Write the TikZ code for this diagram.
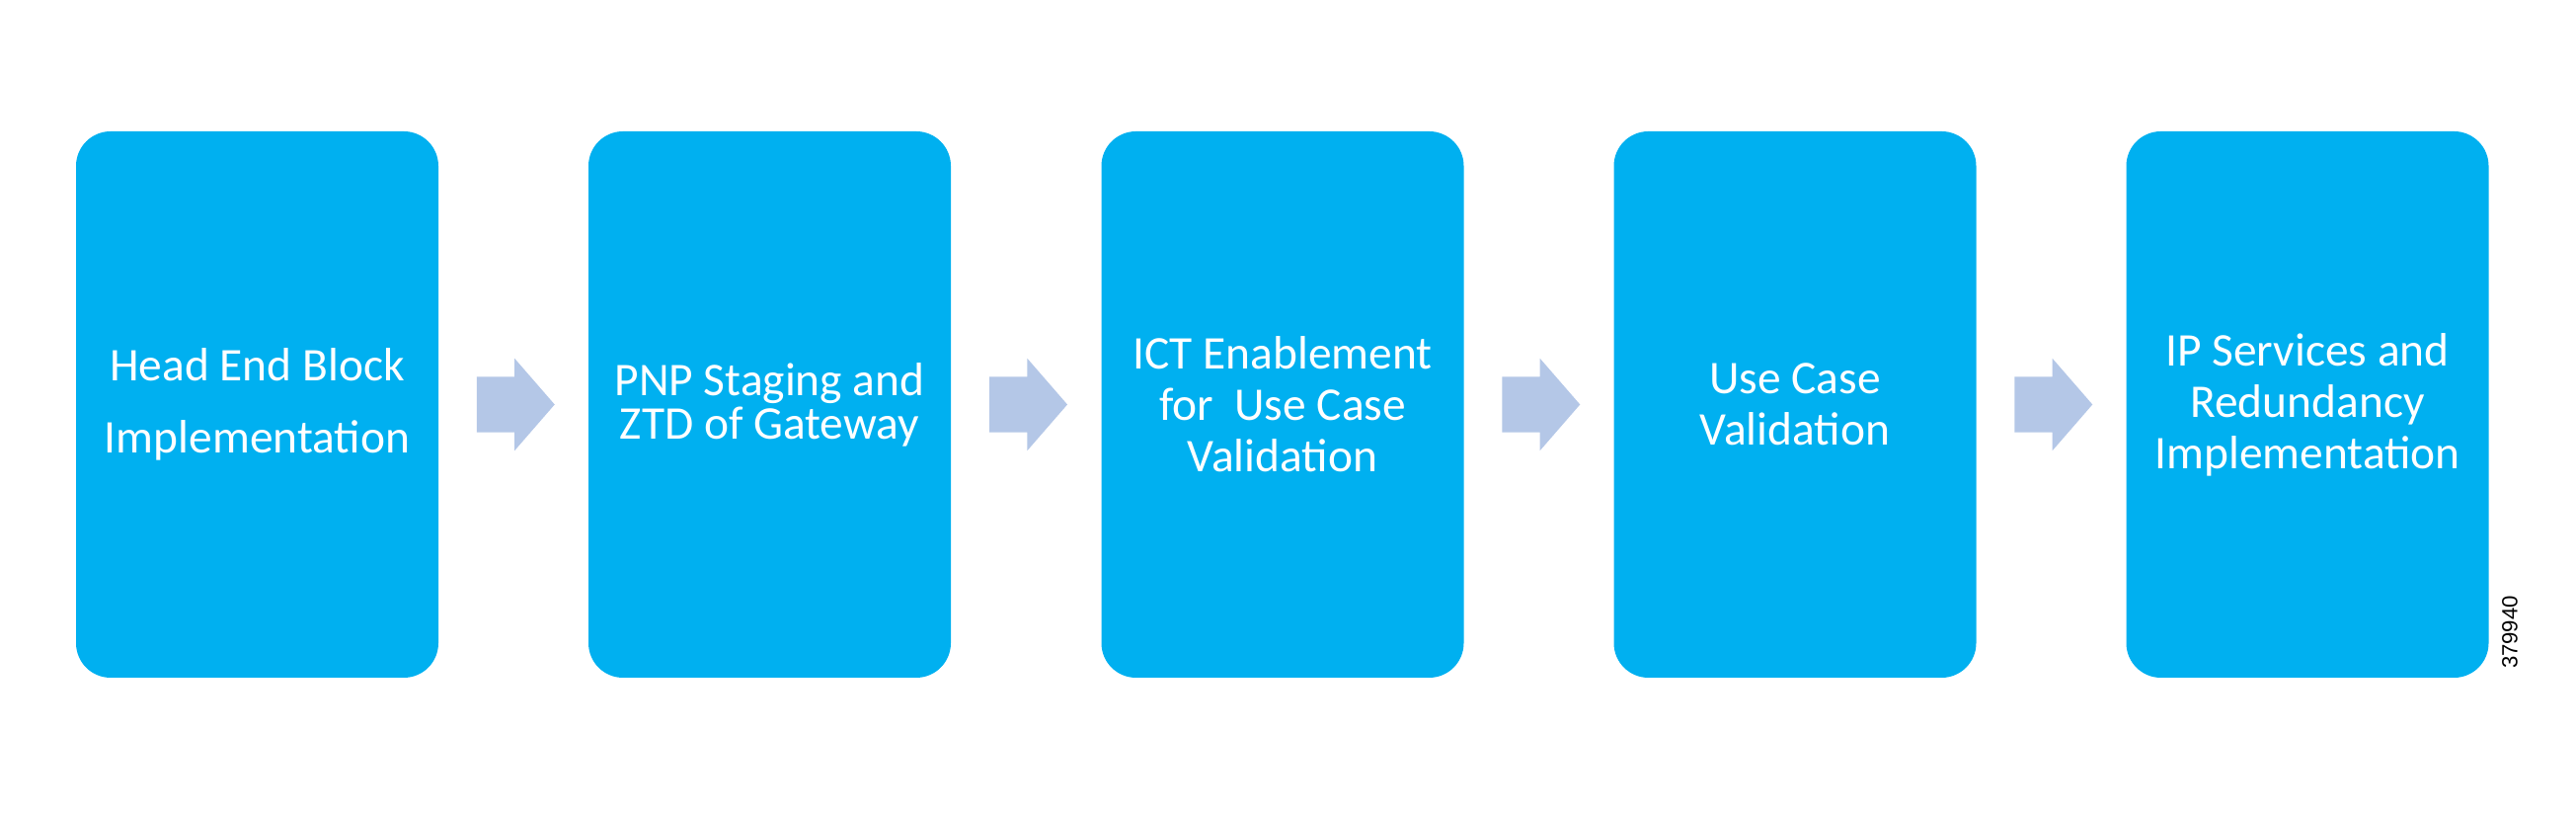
\documentclass[tikz,border=0pt]{standalone}
\usepackage{fontspec}
\setmainfont{Carlito}
\newfontfamily\tagfont{Liberation Sans}
\usetikzlibrary{shapes.arrows,calc}
\definecolor{stageblue}{HTML}{00B0F0}
\definecolor{flowblue}{HTML}{B4C7E7}
\begin{document}
\begin{tikzpicture}[
  stage/.style={fill=stageblue, text=white, rounded corners=0.35cm,
               minimum width=3.67cm, minimum height=5.53cm, align=center,
               inner sep=0pt, font=\fontsize{13.5}{#1}\selectfont},
  stage/.default=14.8,
  flow/.style={single arrow, fill=flowblue, inner xsep=0pt, inner ysep=0.275cm,
               minimum height=0.79cm, xshift=-0.1cm,
               single arrow head extend=0.185cm, single arrow tip angle=98}
]
  \useasboundingbox (0,0) rectangle (26.09,8.26);
  \node[stage=20.8] (s1) at (2.605, 4.165)  {Head End Block\\Implementation};
  \node[stage=12.6] (s2) at (7.795, 4.165)  {PNP Staging and\\ZTD of Gateway};
  \node[stage]      (s3) at (12.99, 4.165)  {ICT Enablement\\for\ \ Use Case\\Validation};
  \node[stage]      (s4) at (18.18, 4.165)  {Use Case\\Validation};
  \node[stage]      (s5) at (23.37, 4.165)  {IP Services and\\Redundancy\\Implementation};
  % block arrows between the stages
  \node[flow] (f12) at ($(s1.east)!.5!(s2.west)$) {};
  \node[flow] (f23) at ($(s2.east)!.5!(s3.west)$) {};
  \node[flow] (f34) at ($(s3.east)!.5!(s4.west)$) {};
  \node[flow] (f45) at ($(s4.east)!.5!(s5.west)$) {};
  \node[rotate=90, font=\tagfont\fontsize{6.3}{7}\selectfont, inner sep=0pt]
    (tag) at (25.42, 1.86) {379940};
\end{tikzpicture}
\end{document}
